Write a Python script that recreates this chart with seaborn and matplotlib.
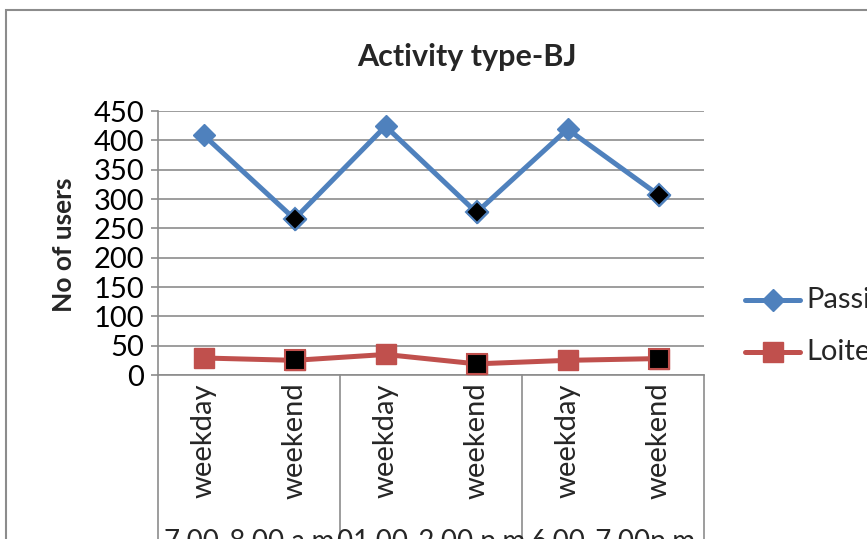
import matplotlib
matplotlib.use("Agg")
import matplotlib.pyplot as plt
from matplotlib.lines import Line2D
from matplotlib.patches import Rectangle
import numpy as np
import pandas as pd
import seaborn as sns

# ---- data -------------------------------------------------------------
day_types = ["weekday", "weekend", "weekday", "weekend", "weekday", "weekend"]
time_slots = ["7.00-8.00 a.m", "01.00-2.00 p.m", "6.00-7.00p.m"]
passing = [409, 266, 424, 277, 419, 307]
loitering = [29, 25, 35, 19, 25, 28]
series_names = ["Passing", "Loitering"]
y_ticks = [0, 50, 100, 150, 200, 250, 300, 350, 400, 450]

BLUE = "#4F81BD"
RED = "#C0504D"
GRID = "#8C8C8C"
FS = 21

sns.set_theme(style="white")
plt.rcParams["font.family"] = ["Lato", "DejaVu Sans"]

W, H = 867, 539
fig = plt.figure(figsize=(W / 100, H / 100), dpi=100)
fig.patch.set_facecolor("white")

def fx(px):
    return px / W

def fy(py):
    return 1 - py / H

ax_left, ax_right, ax_top, ax_bottom = 158, 704, 111, 375
ax = fig.add_axes([fx(ax_left), fy(ax_bottom), fx(ax_right - ax_left), (ax_bottom - ax_top) / H])

pos = np.arange(len(day_types))
df = pd.DataFrame({
    "pos": np.concatenate([pos, pos]),
    "users": passing + loitering,
    "series": [series_names[0]] * len(pos) + [series_names[1]] * len(pos),
    "day": day_types + day_types,
})

palette = {series_names[0]: BLUE, series_names[1]: RED}
markers = {series_names[0]: "D", series_names[1]: "s"}
sizes = {series_names[0]: 11.5, series_names[1]: 15}

for name in series_names:
    sub = df[df["series"] == name]
    sns.lineplot(data=sub, x="pos", y="users", ax=ax, color=palette[name],
                 linewidth=3.6, marker=markers[name], markersize=sizes[name],
                 markerfacecolor=palette[name], markeredgecolor=palette[name],
                 markeredgewidth=1, legend=False, zorder=3)
    wk = sub[sub["day"] == "weekend"]
    ax.plot(wk["pos"], wk["users"], linestyle="none", marker=markers[name],
            markersize=sizes[name], markerfacecolor="black",
            markeredgecolor=palette[name], markeredgewidth=1.5, zorder=4)

ax.set_xlim(-0.5, len(pos) - 0.5)
ax.set_ylim(0, 450)
ax.set_yticks(y_ticks)
ax.set_yticklabels([str(v) for v in y_ticks], fontsize=FS)
ax.set_xticks([])
ax.set_xlabel("")
ax.set_ylabel("")
ax.grid(axis="y", color=GRID, linewidth=1.2)
ax.set_axisbelow(True)
for side in ["top", "right"]:
    ax.spines[side].set_visible(False)
for side in ["left", "bottom"]:
    ax.spines[side].set_color(GRID)
    ax.spines[side].set_linewidth(1.2)
ax.tick_params(axis="y", which="both", left=True, length=5, width=1.2,
               color=GRID, pad=5, labelcolor="black")

# title and y label
fig.text(fx(467), fy(57), "Activity type-BJ", ha="center", va="center",
         fontsize=22, fontweight="bold")
fig.text(fx(64), fy(245), "No of users", ha="center", va="center",
         rotation=90, fontsize=19, fontweight="bold")

# multi-level category axis
cat_w = (ax_right - ax_left) / len(day_types)
for i, lab in enumerate(day_types):
    cx = ax_left + (i + 0.5) * cat_w
    fig.text(fx(cx), fy(441), lab, ha="center", va="center", rotation=90,
             fontsize=FS)
for g in range(len(time_slots) + 1):
    x = ax_left + g * 2 * cat_w
    fig.add_artist(Line2D([fx(x), fx(x)], [fy(ax_bottom), 0], color=GRID,
                          linewidth=1.2, transform=fig.transFigure))
for g, lab in enumerate(time_slots):
    cx = ax_left + (g * 2 + 1) * cat_w
    fig.text(fx(cx), fy(542), lab, ha="center", va="center", fontsize=20)

# outer chart frame
fig.add_artist(Rectangle((fx(6), fy(560)), fx(900), (560 - 10) / H,
                         transform=fig.transFigure, fill=False,
                         edgecolor=GRID, linewidth=1.5))

# legend
for name, ly in zip(series_names, [300, 352]):
    fig.add_artist(Line2D([fx(745), fx(800)], [fy(ly), fy(ly)],
                          color=palette[name], linewidth=3.6,
                          transform=fig.transFigure))
    fig.add_artist(Line2D([fx(772.5)], [fy(ly)], color=palette[name],
                          linestyle="none", marker=markers[name],
                          markersize=sizes[name], transform=fig.transFigure))
    fig.text(fx(806), fy(ly), name, ha="left", va="center", fontsize=FS)

fig.savefig("out.png", dpi=100)
